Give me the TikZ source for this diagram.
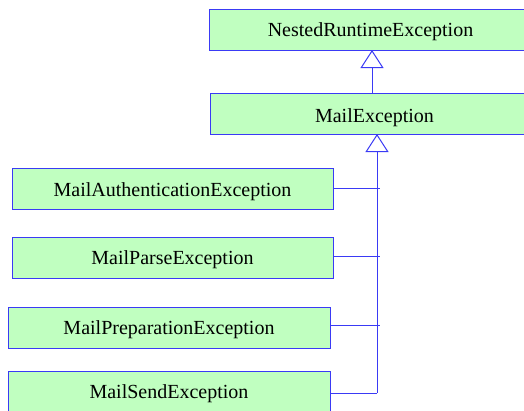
\documentclass[tikz,border=0pt]{standalone}
\usepackage{fontspec}
\setmainfont{Liberation Serif}
\usetikzlibrary{arrows.meta, positioning}
\definecolor{umlline}{HTML}{3A3AF5}
\definecolor{umlfill}{HTML}{C0FFC0}
\tikzset{
  classbox/.style={rectangle, draw=umlline, fill=umlfill, line width=1pt,
    minimum height=41pt, inner sep=0pt, text height=14pt, text depth=0pt,
    font=\fontsize{20}{24}\selectfont},
  inherit/.style={-{Triangle[open, length=18pt, width=23pt, fill=white]},
    umlline, line width=1pt},
  bus/.style={umlline, line width=1pt}
}
\newcommand{\classnode}[5][]{%
  \node[classbox, minimum width=#4, #1] (#2) at #3 {#5};
}

\begin{document}
\begin{tikzpicture}[x=1pt, y=-1pt]
  \useasboundingbox (0,0) rectangle (524,410);
  \begin{scope}
    \clip (0,0) rectangle (524,410);
    \classnode{nested}{(370.5,29.5)}{323pt}{NestedRuntimeException}
    \classnode[text height=18pt]{mail}{(374.5,113.5)}{329pt}{MailException}
    \classnode{auth}{(172.5,189)}{321pt}{MailAuthenticationException}
    \classnode{parse}{(172.5,257.5)}{321pt}{MailParseException}
    \classnode{prep}{(169,327.5)}{322pt}{MailPreparationException}
    \classnode{send}{(169,391.5)}{322pt}{MailSendException}

    % attachment points of the generalisation arrows
    \coordinate (nestedin) at (372,50);
    \coordinate (mailout) at (372,93);
    \coordinate (mailin) at (377,134);
    \coordinate (busend) at (377,393);

    \draw[inherit] (mailout) -- (nestedin);
    \draw[inherit] (busend) -- (mailin);

    % subclasses join the shared bus
    \draw[bus] (auth.east |- 0,188) -- (380,188);
    \draw[bus] (parse.east |- 0,256) -- (380,256);
    \draw[bus] (prep.east |- 0,325) -- (380,325);
    \draw[bus] (send.east |- 0,393) -- (busend);
  \end{scope}
\end{tikzpicture}
\end{document}
